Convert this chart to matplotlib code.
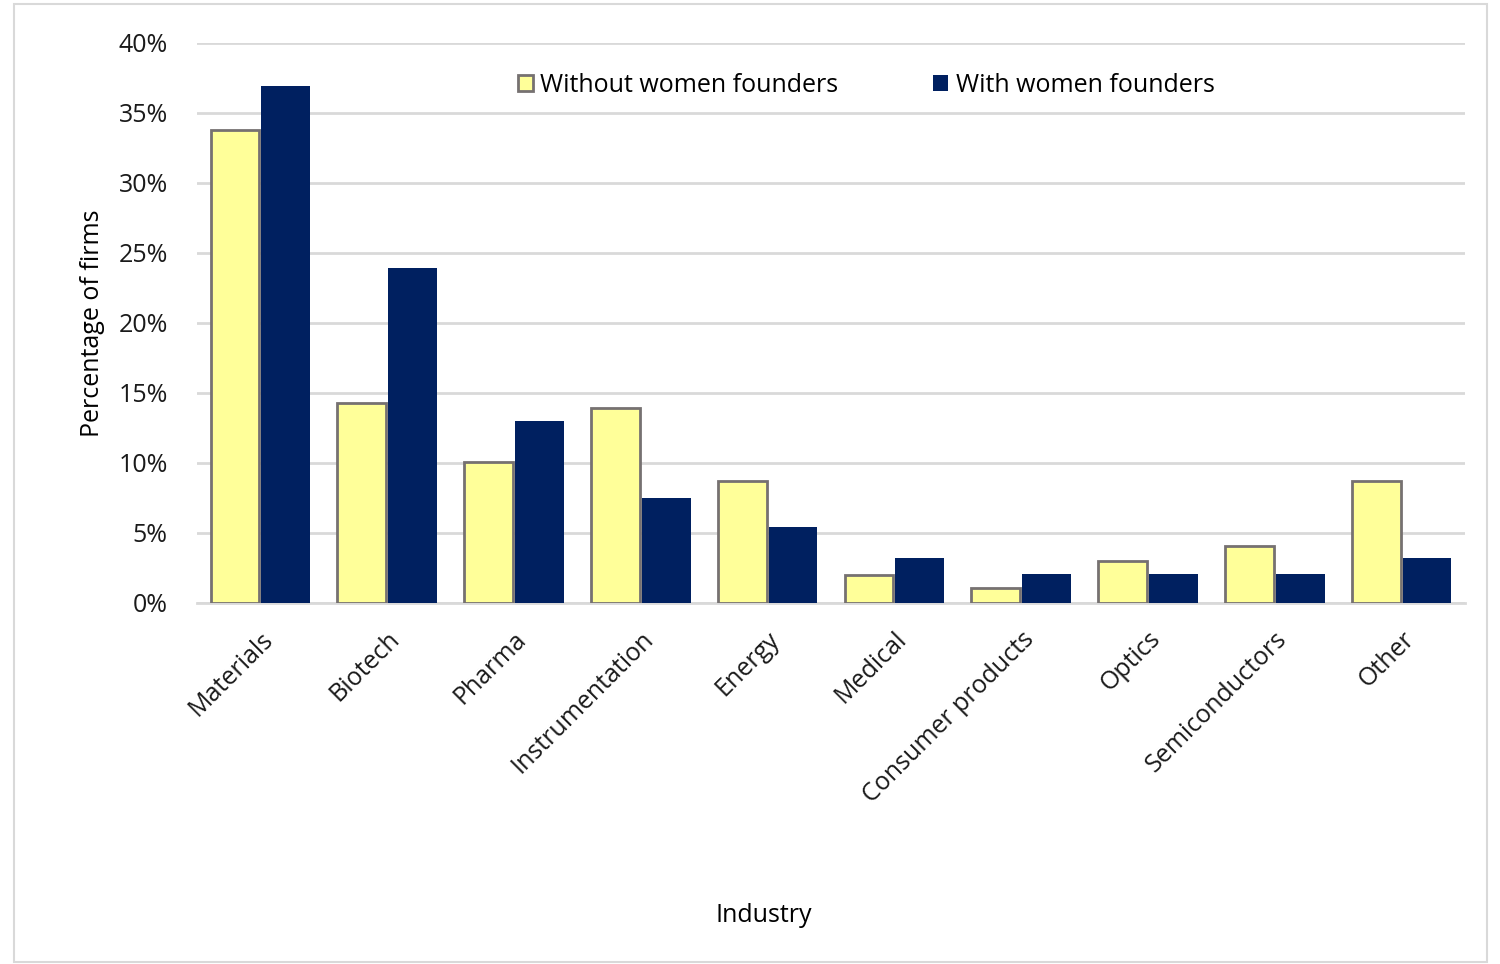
import matplotlib.pyplot as plt
import numpy as np
from matplotlib.patches import Rectangle
from matplotlib.ticker import PercentFormatter

plt.rcParams['font.family'] = ['Open Sans', 'DejaVu Sans']

industries = ["Materials", "Biotech", "Pharma", "Instrumentation", "Energy",
              "Medical", "Consumer products", "Optics", "Semiconductors", "Other"]
without_women = [33.8, 14.3, 10.1, 13.9, 8.7, 2.0, 1.1, 3.0, 4.1, 8.7]
with_women = [36.9, 23.9, 13.0, 7.5, 5.4, 3.2, 2.1, 2.1, 2.1, 3.2]

fig = plt.figure(figsize=(15, 9.64), dpi=100)
ax = fig.add_axes([197/1500, 1-603/964, 1268/1500, 560/964])

x = np.arange(len(industries))
w = 0.385
ax.bar(x - 0.2, without_women, w, color='#ffff99', edgecolor='#767171', linewidth=2,
       label='Without women founders', zorder=3)
ax.bar(x + 0.2, with_women, w, color='#002060', label='With women founders', zorder=3)

ax.set_xlim(-0.5, len(industries) - 0.5)
ax.set_ylim(0, 40)
ax.set_yticks(np.arange(0, 41, 5))
ax.yaxis.set_major_formatter(PercentFormatter(decimals=0))
ax.grid(axis='y', color='#d9d9d9', linewidth=2, zorder=0)
for s in ['top', 'right', 'left']:
    ax.spines[s].set_visible(False)
ax.spines['bottom'].set_color('#d9d9d9')
ax.spines['bottom'].set_linewidth(2)
ax.tick_params(axis='both', length=0, labelsize=18, colors='#1a1a1a')
ax.tick_params(axis='y', pad=21)
ax.set_xticks(x)
ax.set_xticklabels(industries, rotation=45, ha='right', rotation_mode='anchor')
ax.tick_params(axis='x', pad=17)

ax.set_ylabel('Percentage of firms', fontsize=18, labelpad=10)
fig.text(764/1500, 1-915/964, 'Industry', fontsize=18, ha='center', va='center')

ax.legend(loc='center', bbox_to_anchor=((866-197)/1268, 1-(85-43)/560), ncol=2, frameon=False,
          fontsize=18, handlelength=0.6, handleheight=0.6, handletextpad=0.3,
          columnspacing=3.8)

fig.patches.append(Rectangle((14/1500, 2/964), 1473/1500, 958/964, transform=fig.transFigure,
                             fill=False, edgecolor='#d9d9d9', linewidth=1.5))

fig.savefig('out.png', dpi=100)
